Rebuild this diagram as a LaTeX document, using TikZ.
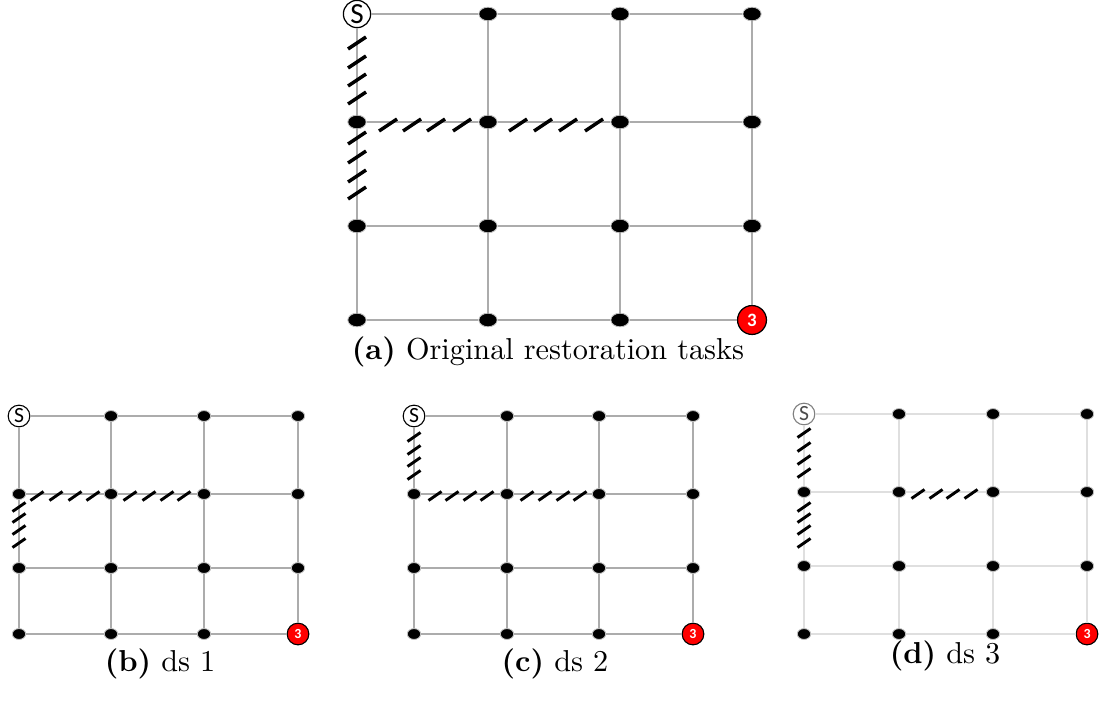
\documentclass[tikz,border=0pt]{standalone}
\usepackage{fontspec}
\newfontfamily\nodefont{Carlito}
\usetikzlibrary{shapes.geometric}
\tikzset{
  edgeN/.style={draw=gray!65, line width=0.45pt},
  edgeL/.style={draw=gray!25, line width=0.6pt},
  dotA/.style={ellipse, fill=black, draw=gray!50, line width=0.3pt, minimum width=6.6pt, minimum height=4.9pt, inner sep=0pt},
  dotB/.style={ellipse, fill=black, draw=gray!50, line width=0.3pt, minimum width=4.8pt, minimum height=3.9pt, inner sep=0pt},
  srcA/.style={circle, draw=black, fill=white, line width=0.45pt, minimum size=9.8pt, inner sep=0pt, font=\nodefont\fontsize{10.5}{10.5}\selectfont},
  srcB/.style={circle, draw=black, fill=white, line width=0.4pt, minimum size=7.8pt, inner sep=0pt, font=\nodefont\fontsize{7.8}{7.8}\selectfont},
  srcD/.style={srcB, draw=gray, text=black!70},
  dmgA/.style={circle, draw=black, fill=red, text=white, line width=0.45pt, minimum size=10.4pt, inner sep=0pt, font=\nodefont\bfseries\fontsize{6.8}{6.8}\selectfont},
  dmgB/.style={circle, draw=black, fill=red, text=white, line width=0.4pt, minimum size=7.8pt, inner sep=0pt, font=\nodefont\bfseries\fontsize{5}{5}\selectfont},
  hatchA/.style={draw=black, line width=1.25pt},
  hatchB/.style={draw=black, line width=1.05pt},
  caption/.style={font=\fontsize{10.9}{13}\selectfont, inner sep=0pt}
}
\newcommand\drawpanel[9]{%
  \foreach \c/\x in {0/#2,1/#3,2/#4,3/#5}{%
    \foreach \r/\y in {0/#6,1/#7,2/#8,3/#9}{%
      \pgfmathtruncatemacro\k{\c*10+\r}%
      \ifnum\k=0 \node[gsrc] (#1-\c-\r) at (\x,\y) {S};%
      \else\ifnum\k=33 \node[gdmg] (#1-\c-\r) at (\x,\y) {3};%
      \else \node[gdot] (#1-\c-\r) at (\x,\y) {};\fi\fi
    }%
  }%
  \foreach \c in {0,1,2,3}{%
    \foreach \r [count=\rn from 1] in {0,1,2}{%
      \draw[gedge] (#1-\c-\r) -- (#1-\c-\rn);
      \draw[gedge] (#1-\r-\c) -- (#1-\rn-\c);
    }%
  }%
}
\begin{document}
\begin{tikzpicture}[x=0.36pt,y=-0.36pt]
\useasboundingbox (0,0) rectangle (1099,706);
% panel (a)
\begin{scope}[gdot/.style=dotA, gsrc/.style=srcA, gdmg/.style=dmgA, gedge/.style=edgeN]
\drawpanel{a}{357}{488}{620}{752}{14}{122}{226}{320}
\end{scope}
\foreach \y in {43,62,80,98,138,157,176,193}
  \draw[hatchA] (357,\y) ++(-9,6) -- ++(18,-12);
\foreach \x in {388,412,436,462,518,543,568,594}
  \draw[hatchA] (\x,125) ++(-9,6) -- ++(18,-12);
\node[caption] (capa) at (548,352) {\textbf{(a)} Original restoration tasks};
% panel (b)
\begin{scope}[gdot/.style=dotB, gsrc/.style=srcB, gdmg/.style=dmgB, gedge/.style=edgeN]
\drawpanel{b}{19}{111}{204}{298}{416}{494}{568}{634}
\end{scope}
\foreach \x in {37,56,75,93,130,149,167,184}
  \draw[hatchB] (\x,496) ++(-6.5,4.5) -- ++(13,-9);
\foreach \y in {507,518,530,543}
  \draw[hatchB] (19,\y) ++(-6.5,4.5) -- ++(13,-9);
\node[caption] (capb) at (160,664) {\textbf{(b)} ds 1};
% panel (c)
\begin{scope}[gdot/.style=dotB, gsrc/.style=srcB, gdmg/.style=dmgB, gedge/.style=edgeN]
\drawpanel{c}{414}{507}{599}{693}{416}{494}{568}{634}
\end{scope}
\foreach \y in {437,450,462,475}
  \draw[hatchB] (414,\y) ++(-6.5,4.5) -- ++(13,-9);
\foreach \x in {435,452,470,487,527,545,563,580}
  \draw[hatchB] (\x,496) ++(-6.5,4.5) -- ++(13,-9);
\node[caption] (capc) at (555,664) {\textbf{(c)} ds 2};
% panel (d)
\begin{scope}[gdot/.style=dotB, gsrc/.style=srcD, gdmg/.style=dmgB, gedge/.style=edgeL]
\drawpanel{d}{804}{899}{993}{1087}{414}{492}{566}{634}
\end{scope}
\foreach \y in {433,447,460,473,507,518,530,543}
  \draw[hatchB] (804,\y) ++(-6.5,4.5) -- ++(13,-9);
\foreach \x in {918,936,953,971}
  \draw[hatchB] (\x,494) ++(-6.5,4.5) -- ++(13,-9);
\node[caption] (capd) at (945,656) {\textbf{(d)} ds 3};
\end{tikzpicture}
\end{document}
